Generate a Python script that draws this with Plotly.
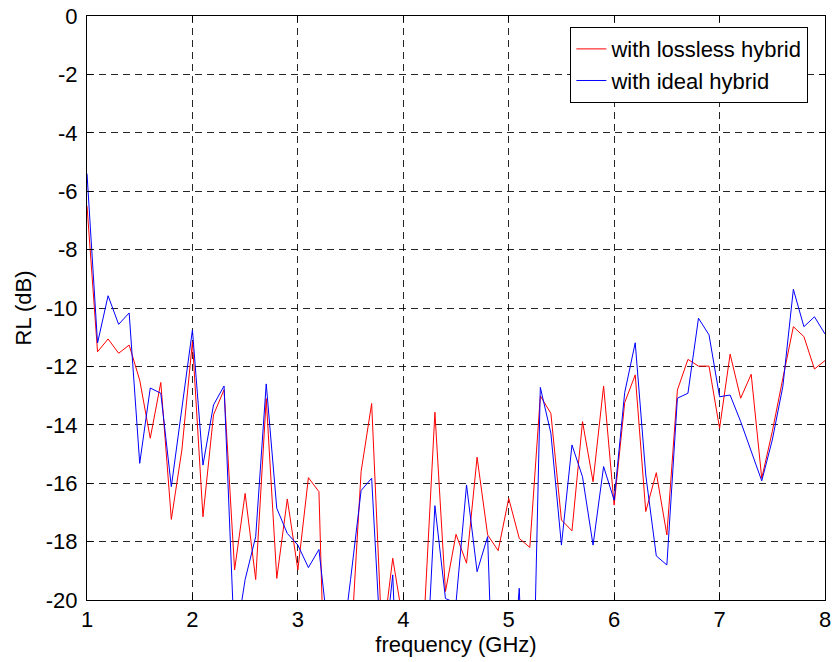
import plotly.graph_objects as go

# Frequency grid, 1-8 GHz in 0.1 GHz steps
freq_ghz = [round(1 + 0.1 * i, 1) for i in range(71)]

# Return loss (dB), lossless hybrid
rl_lossless = [
    -6.5, -11.5, -11.06, -11.55, -11.27, -12.47, -14.46, -12.55, -17.24, -14.86,
    -11.15, -17.15, -13.66, -12.8, -18.97, -16.35, -19.3, -13.1, -19.26, -16.54,
    -18.97, -15.81, -16.29, -29.0, -27.0, -21.8, -15.6, -13.27, -21.5, -18.57,
    -20.8, -24.0, -20.5, -13.57, -19.71, -17.75, -18.74, -15.11, -17.77, -18.31,
    -16.52, -17.89, -18.2, -13.01, -13.61, -17.26, -17.63, -13.89, -15.95, -12.67,
    -16.75, -13.24, -12.29, -16.97, -15.64, -17.77, -12.81, -11.76, -11.99, -11.99,
    -14.12, -11.58, -13.09, -12.27, -15.83, -14.23, -12.41, -10.64, -10.98, -12.09,
    -11.8,
]

# Return loss (dB), ideal hybrid
rl_ideal = [
    -5.4, -11.2, -9.58, -10.56, -10.17, -15.32, -12.74, -12.92, -16.12, -13.49,
    -10.75, -15.38, -13.32, -12.67, -21.6, -19.3, -17.83, -12.6, -16.86, -17.72,
    -18.12, -18.89, -18.27, -21.5, -22.2, -19.3, -16.25, -15.83, -22.5, -19.14,
    -28.0, -26.0, -23.8, -16.77, -19.95, -20.1, -16.06, -19.03, -17.83, -28.7,
    -24.0, -19.6, -28.5, -12.72, -14.29, -18.12, -14.69, -15.78, -18.12, -15.43,
    -16.58, -12.9, -11.19, -15.72, -18.49, -18.8, -13.09, -12.92, -10.35, -10.92,
    -13.04, -12.98, -13.89, -14.92, -15.92, -14.52, -12.69, -9.36, -10.64, -10.3,
    -10.89,
]

x_ticks = [1, 2, 3, 4, 5, 6, 7, 8]
y_ticks = [0, -2, -4, -6, -8, -10, -12, -14, -16, -18, -20]

FONT = "Liberation Sans, Arial, sans-serif"
FS = 22

fig = go.Figure()
fig.add_trace(go.Scatter(
    x=freq_ghz, y=rl_lossless, mode="lines", name="with lossless hybrid",
    line=dict(color="#ff0000", width=1), legendgroup="a",
))
fig.add_trace(go.Scatter(
    x=freq_ghz, y=rl_ideal, mode="lines", name="with ideal hybrid",
    line=dict(color="#0000ff", width=1), legendgroup="b",
))

axis_common = dict(
    showline=True, linecolor="black", linewidth=1, mirror="allticks",
    ticks="inside", ticklen=6, tickcolor="black", tickwidth=1,
    showgrid=True, gridcolor="rgba(0,0,0,0.85)", griddash="7px,5px", gridwidth=1,
    zeroline=False, automargin=False,
    tickfont=dict(family=FONT, size=FS, color="black"),
)

fig.update_xaxes(
    range=[1, 8], tickvals=x_ticks, ticktext=[str(v) for v in x_ticks],
    title=dict(text="frequency (GHz)", font=dict(family=FONT, size=FS, color="black"),
               standoff=1),
    **axis_common,
)
fig.update_yaxes(
    range=[-20, 0], tickvals=y_ticks, ticktext=[str(v) for v in y_ticks],
    ticklabelstandoff=4,
    title=dict(text="RL (dB)", font=dict(family=FONT, size=FS, color="black"),
               standoff=8),
    **axis_common,
)

fig.update_layout(
    width=834, height=662,
    margin=dict(l=87, r=9, t=16, b=62),
    paper_bgcolor="white", plot_bgcolor="white",
    font=dict(family=FONT, size=FS, color="black"),
    legend=dict(
        x=0.655, y=0.981, xanchor="left", yanchor="top",
        bgcolor="white", bordercolor="black", borderwidth=1,
        font=dict(family=FONT, size=FS, color="black"),
        tracegroupgap=0,
    ),
)

fig.write_html("out.html")
